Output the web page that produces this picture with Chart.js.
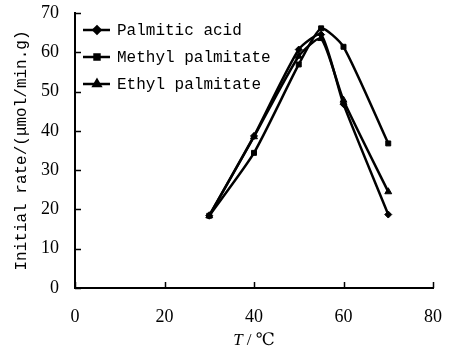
<!DOCTYPE html>
<html>
<head>
<meta charset="utf-8">
<script src="https://cdn.jsdelivr.net/npm/chart.js@4/dist/chart.umd.min.js"></script>
<style>
  html, body { margin: 0; padding: 0; background: #fff; }
  #wrap { width: 451px; height: 359px; }
</style>
</head>
<body>
<div id="wrap"><canvas id="chart" width="451" height="359"></canvas></div>
<script>
// ─── Données ──────────────────────────────────────────────────────────────
const temps    = [30, 40, 50, 55, 60, 70];
const palmitic = [18.4, 38.7, 60.7, 64.5, 46.8, 18.7];
const methyl   = [18.4, 34.4, 56.9, 66.1, 61.4, 36.8];
const ethyl    = [18.4, 38.5, 59.0, 63.5, 47.8, 24.5];

const seriesLabels = ['Palmitic acid', 'Methyl palmitate', 'Ethyl palmitate'];
const xTicks = [0, 20, 40, 60, 80];
const yTicks = [0, 10, 20, 30, 40, 50, 60, 70];

const yTitle = 'Initial rate/(μmol/min.g)';
const xTitleVar  = 'T';
const xTitleUnit = '/ ℃';

// ─── Helpers ──────────────────────────────────────────────────────────────
const MONO  = '"Liberation Mono", "DejaVu Sans Mono", monospace';
const SERIF = '"Liberation Serif", "DejaVu Serif", serif';

function toPoints(ys) {
  return temps.map((t, i) => ({ x: t, y: ys[i] }));
}

function makeSet(label, ys, style, radius) {
  return {
    label,
    data: toPoints(ys),
    borderColor: '#000',
    backgroundColor: '#000',
    borderWidth: 2.5,
    tension: 0.2,
    pointStyle: style,
    pointRadius: radius,
    pointBorderWidth: 1,
    pointBackgroundColor: '#000',
    pointBorderColor: '#000',
  };
}

// Petites graduations tournées vers l'intérieur + légende + titre X (T en italique)
const decorPlugin = {
  id: 'decor',
  afterDraw(chart) {
    const { ctx, chartArea: a, scales: { x, y } } = chart;
    ctx.save();
    ctx.strokeStyle = '#000';
    ctx.lineWidth = 1.5;
    ctx.beginPath();
    xTicks.forEach((v) => {
      const px = Math.round(x.getPixelForValue(v)) + 0.5;
      ctx.moveTo(px, a.bottom);
      ctx.lineTo(px, a.bottom - 6);
    });
    yTicks.forEach((v) => {
      const py = Math.round(y.getPixelForValue(v)) + 0.5;
      ctx.moveTo(a.left, py);
      ctx.lineTo(a.left + 6, py);
    });
    ctx.stroke();

    // légende
    const rows = [30, 57, 84];
    chart.data.datasets.forEach((ds, i) => {
      const ly = rows[i];
      ctx.lineWidth = 2.5;
      ctx.beginPath();
      ctx.moveTo(83, ly);
      ctx.lineTo(110, ly);
      ctx.stroke();
      ctx.fillStyle = '#000';
      Chart.helpers.drawPoint(ctx, {
        pointStyle: ds.pointStyle, radius: ds.pointRadius, borderWidth: 1, rotation: 0,
      }, 97, ly);
      ctx.font = '16px ' + MONO;
      ctx.textBaseline = 'middle';
      ctx.textAlign = 'left';
      ctx.fillText(ds.label, 117, ly + 1);
    });

    // titre de l'axe X
    const cx = (a.left + a.right) / 2;
    ctx.font = 'italic 17px ' + SERIF;
    const wT = ctx.measureText(xTitleVar).width;
    ctx.font = '17px ' + SERIF;
    const wU = ctx.measureText(' ' + xTitleUnit).width;
    let sx = cx - (wT + wU) / 2;
    ctx.textBaseline = 'middle';
    ctx.textAlign = 'left';
    ctx.font = 'italic 17px ' + SERIF;
    ctx.fillText(xTitleVar, sx, 341);
    ctx.font = '17px ' + SERIF;
    ctx.fillText(' ' + xTitleUnit, sx + wT, 341);
    ctx.restore();
  },
};

// ─── Graphique ────────────────────────────────────────────────────────────
new Chart(document.getElementById('chart'), {
  type: 'line',
  data: {
    datasets: [
      makeSet(seriesLabels[0], palmitic, 'rectRot', 3.5),
      makeSet(seriesLabels[1], methyl,   'rect',    3.5),
      makeSet(seriesLabels[2], ethyl,    'triangle', 4),
    ],
  },
  options: {
    responsive: false,
    animation: false,
    layout: { padding: { left: 0, top: 13, right: 18, bottom: 0 } },
    plugins: {
      legend:  { display: false },
      tooltip: { enabled: false },
    },
    scales: {
      x: {
        type: 'linear',
        min: 0, max: 80,
        afterBuildTicks: (s) => { s.ticks = xTicks.map((v) => ({ value: v })); },
        afterFit: (s) => { s.height = 71; s.paddingLeft = 0; s.paddingRight = 0; },
        grid: { display: false, drawTicks: false },
        border: { display: true, color: '#000', width: 2 },
        ticks: { color: '#000', padding: 18, font: { family: SERIF, size: 18 } },
      },
      y: {
        min: 0, max: 70,
        afterBuildTicks: (s) => { s.ticks = yTicks.map((v) => ({ value: v })); },
        afterFit: (s) => { s.width = 75; s.paddingTop = 0; s.paddingBottom = 0; },
        grid: { display: false, drawTicks: false },
        border: { display: true, color: '#000', width: 2 },
        ticks: { color: '#000', padding: 16, font: { family: SERIF, size: 18 } },
        title: {
          display: true,
          text: yTitle,
          color: '#000',
          padding: { top: 12, bottom: 0 },
          font: { family: MONO, size: 16 },
        },
      },
    },
  },
  plugins: [decorPlugin],
});
</script>
</body>
</html>
